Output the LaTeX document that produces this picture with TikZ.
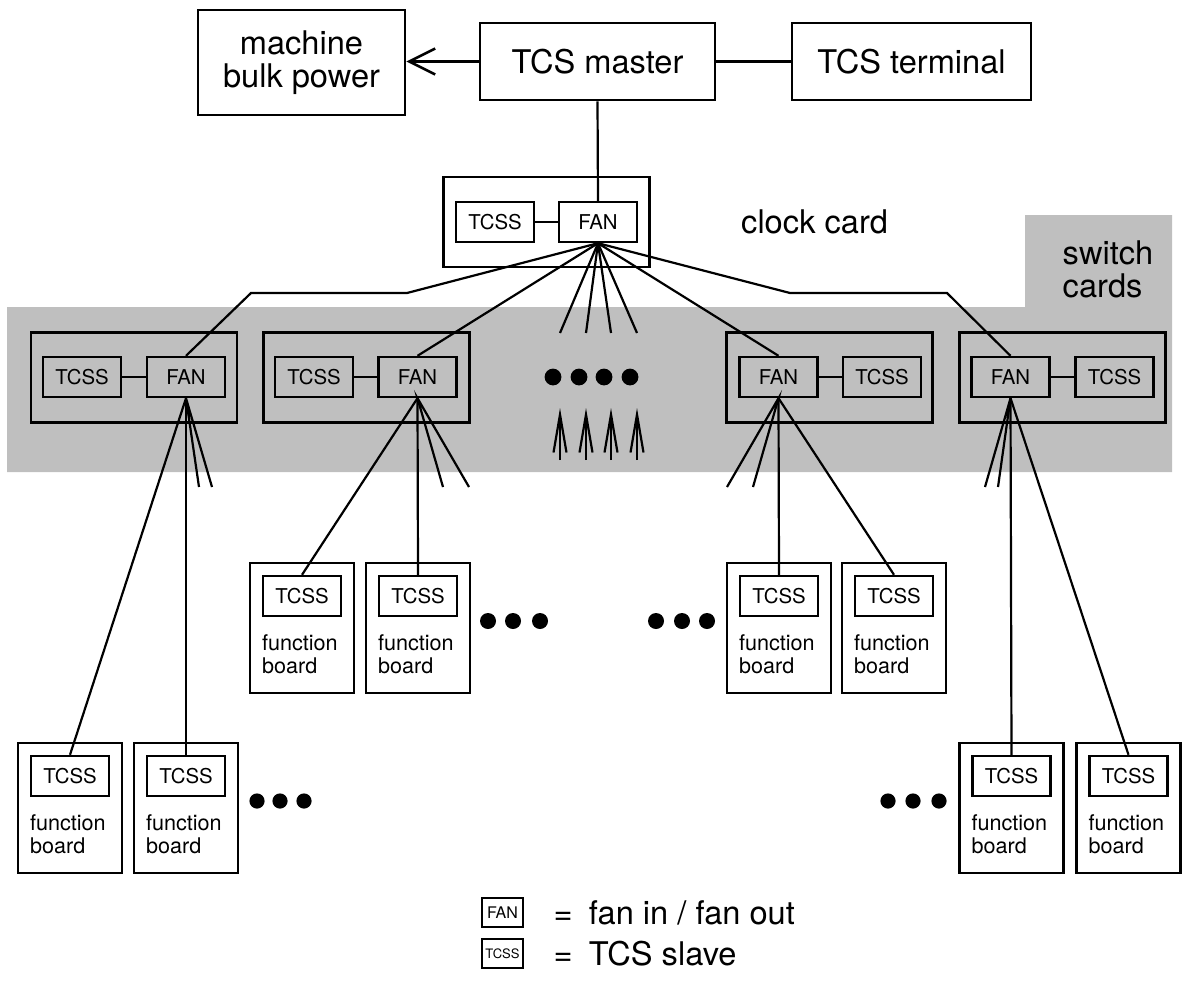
\documentclass[tikz,border=0pt]{standalone}
\usepackage{fontspec}
\setmainfont{TeX Gyre Heros}
\usetikzlibrary{arrows.meta,positioning,calc}

\newcommand{\tcsbig}{\fontsize{16.3}{16.5}\selectfont}
\newcommand{\tcschip}{\fontsize{10.2}{12}\selectfont}
\newcommand{\tcsboard}{\fontsize{10.8}{11.5}\selectfont}

\begin{document}
\begin{tikzpicture}[
  x=0.5pt, y=-0.5pt,
  bigbox/.style={draw, line width=1.3pt, inner sep=0pt, align=center, font=\tcsbig},
  card/.style={draw, line width=1.3pt, minimum width=103pt, minimum height=45pt},
  chip/.style={draw, line width=1.2pt, inner sep=0pt, minimum width=39pt, minimum height=20pt, font=\tcschip},
  board/.style={draw, fill=white, line width=1.3pt, minimum width=52pt, minimum height=65pt},
  boardtext/.style={inner sep=0pt, align=left, anchor=north west, font=\tcsboard},
  wire/.style={line width=1.1pt},
  arr/.style={-{Straight Barb[length=13pt,width=13pt]}, line width=1.3pt},
  fanin/.style={-{Straight Barb[length=19pt,width=6.5pt]}, line width=1.1pt}
]
\useasboundingbox (0,0) rectangle (1183,996);

% switch card area
\fill[black!25] (7,307) -- (1025,307) -- (1025,215) -- (1172,215) -- (1172,472) -- (7,472) -- cycle;
\node[font=\tcsbig, align=left, inner sep=0pt] (switchlabel) at (1108,269) {switch\\cards};

% top row
\node[bigbox, minimum width=103.5pt, minimum height=52.5pt] (power) at (301.5,62.5) {machine\\bulk power};
\node[bigbox, minimum width=117.5pt, minimum height=38.5pt] (master) at (597.5,61.5) {TCS master};
\node[bigbox, minimum width=119.5pt, minimum height=38.5pt] (terminal) at (911.5,61.5) {TCS terminal};

\draw[arr] (master.west) -- (master.west -| power.east);
\draw[wire] (master) -- (terminal);

% clock card
\node[card] (clock) at (546.5,222) {};
\node[chip] (clkslave) at (495,222) {TCSS};
\node[chip] (clkfan) at (598,222) {FAN};
\node[font=\tcsbig, inner sep=0pt, right=45pt of clock] (clocklabel) {clock card};
\draw[wire] (clkslave) -- (clkfan);
\draw[wire] (master.south) -- (clkfan.north);

% switch cards
\foreach \n/\c/\s/\f in {1/134/82/186, 2/366.5/314/417.5, 3/829.5/882/778.5, 4/1062.5/1114.5/1010.5} {
  \node[card] (card\n) at (\c,377.5) {};
  \node[chip] (slave\n) at (\s,377) {TCSS};
  \node[chip] (fan\n) at (\f,377) {FAN};
  \draw[wire] (slave\n) -- (fan\n);
}

% clock card fan out
\coordinate (l1) at (407,293);
\coordinate (l2) at (251,293);
\coordinate (r1) at (790,293);
\coordinate (r2) at (947,293);
\draw[wire] (clkfan.south) -- (l1) -- (l2) -- (fan1.north);
\draw[wire] (clkfan.south) -- (fan2.north);
\draw[wire] (clkfan.south) -- (fan3.north);
\draw[wire] (clkfan.south) -- (r1) -- (r2) -- (fan4.north);
\foreach \i/\x in {1/560, 2/586, 3/611, 4/637} {
  \coordinate (out\i) at (\x,333);
  \draw[wire] (clkfan.south) -- (out\i);
  \coordinate (inlow\i) at (\x,460);
  \coordinate (inup\i) at (\x,408);
  \draw[fanin] (inlow\i) -- (inup\i);
}
\foreach \x in {553,579,604,630}
  \fill (\x,377) circle[radius=4.2pt];

% function boards
\foreach \n/\x/\y in {a/302/628, b/418/628, c/779/628, d/894/628, e/70/808, f/186/808, g/1011.5/808, h/1128.5/808} {
  \node[board] (board\n) at (\x,\y) {};
  \node[chip] (bslave\n) at (\x,{\y-32}) {TCSS};
  \node[boardtext] (btext\n) at ([shift={(13,73)}]board\n.north west) {function\\board};
}

\draw[wire] (fan1.south) -- (bslavee.north);
\draw[wire] (fan1.south) -- (bslavef.north);
\draw[wire] (fan2.south) -- (bslavea.north);
\draw[wire] (fan2.south) -- (bslaveb.north);
\draw[wire] (fan3.south) -- (bslavec.north);
\draw[wire] (fan3.south) -- (bslaved.north);
\draw[wire] (fan4.south) -- (bslaveg.north);
\draw[wire] (fan4.south) -- (bslaveh.north);
\foreach \n/\a/\b in {1/199/212, 2/443/469, 3/727/753, 4/985/998} {
  \coordinate (stuba\n) at (\a,487);
  \coordinate (stubb\n) at (\b,487);
  \draw[wire] (stuba\n) -- (fan\n.south) -- (stubb\n);
}

\foreach \x in {488,513,540,656,682,707}
  \fill (\x,621) circle[radius=4pt];
\foreach \x in {257,280,304,888,913,939}
  \fill (\x,801) circle[radius=3.8pt];

% legend
\node[chip, minimum width=20.5pt, minimum height=14.5pt, font=\fontsize{8}{9}\selectfont] (legfan) at (502.5,912.5) {FAN};
\node[chip, minimum width=20.5pt, minimum height=14.5pt, font=\fontsize{6.5}{8}\selectfont] (legslave) at (502.5,953.5) {TCSS};
\node[font=\tcsbig, inner sep=0pt, right=14.5pt of legfan] (legfantext) {=\enspace fan in / fan out};
\node[font=\tcsbig, inner sep=0pt, right=14.5pt of legslave] (legslavetext) {=\enspace TCS slave};
\end{tikzpicture}
\end{document}
